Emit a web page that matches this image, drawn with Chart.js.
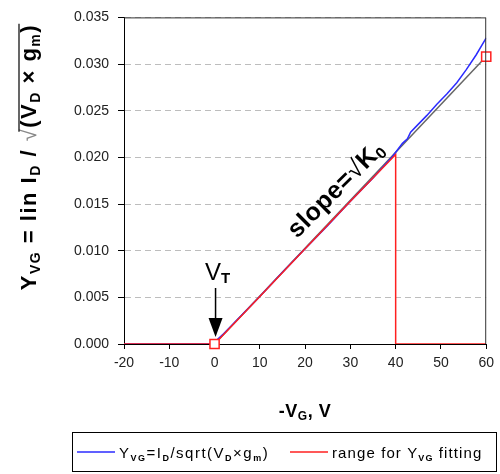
<!DOCTYPE html>
<html>
<head>
<meta charset="utf-8">
<script src="https://cdn.jsdelivr.net/npm/chart.js@4/dist/chart.umd.min.js"></script>
<style>
  html, body { margin: 0; padding: 0; background: #fff; }
  #wrap { width: 500px; height: 474px; }
</style>
</head>
<body>
<div id="wrap"><canvas id="grapYvg" width="500" height="474"></canvas></div>
<script>
// values
var blueX = [-20, -10, -1, 0, 2, 5, 10, 15, 20, 25, 30, 35, 39.3, 41.5, 42.6, 43.3, 44.7, 46.9, 49.1, 51.3, 53.5, 55.6, 57.8, 60];
var blueY = [0, 0, 0, 0.0002, 0.0011, 0.0026, 0.0051, 0.0077, 0.0102, 0.0127, 0.0153, 0.0178, 0.0201, 0.0215, 0.0220, 0.0227, 0.0234, 0.0245, 0.0257, 0.0268, 0.0280, 0.0294, 0.0310, 0.0328];
var rangeX = [-20, 0, 10, 20, 30, 40, 40, 60];
var rangeY = [0, 0, 0.0051, 0.0102, 0.0153, 0.0203, 0, 0];
var fitX = [0, 60];
var fitY = [0, 0.0308];
var markX = [0, 60];
var markY = [0, 0.0308];
var xMin = -20, xMax = 60, xStep = 10;
var yMin = 0, yMax = 0.035, yStep = 0.005;

var FONT = '"Liberation Sans", Arial, sans-serif';

function pts(xs, ys) {
    return xs.map(function (x, i) { return { x: x, y: ys[i] }; });
}

// draws a list of [text, font, dy, color] pieces centred on x
function richText(ctx, segs, x, y) {
    var total = 0;
    segs.forEach(function (s) {
        ctx.font = s[1] + ' ' + FONT;
        s.w = ctx.measureText(s[0]).width;
        total += s.w;
    });
    var cx = x - total / 2;
    segs.forEach(function (s) {
        ctx.font = s[1] + ' ' + FONT;
        ctx.fillStyle = s[3] || '#000';
        ctx.fillText(s[0], cx, y + (s[2] || 0));
        s.x0 = cx;
        cx += s.w;
        s.x1 = cx;
    });
    return segs;
}

var textPlugin = {
    id: 'textPlugin',
    beforeInit: function (chart) {
        chart.ctx.letterSpacing = '2px';
    },
    afterDatasetsDraw: function (chart) {
        var ctx = chart.ctx;
        var xs = chart.scales.x, ys = chart.scales.y;
        var a = chart.chartArea;
        ctx.save();
        ctx.letterSpacing = '0px';
        // top and right frame
        ctx.strokeStyle = '#333';
        ctx.lineWidth = 1;
        ctx.beginPath();
        ctx.moveTo(a.left, a.top + 0.5);
        ctx.lineTo(a.right - 0.5, a.top + 0.5);
        ctx.lineTo(a.right - 0.5, a.bottom);
        ctx.stroke();

        // V_T with arrow
        var px = xs.getPixelForValue(0);
        ctx.textBaseline = 'alphabetic';
        richText(ctx, [['V', '24px'], ['T', 'bold 15px', 3]], px + 3, 280);
        ctx.strokeStyle = '#000';
        ctx.lineWidth = 1.5;
        ctx.beginPath();
        ctx.moveTo(px + 1, 288);
        ctx.lineTo(px + 1, 320);
        ctx.stroke();
        ctx.fillStyle = '#000';
        ctx.beginPath();
        ctx.moveTo(px - 6, 318);
        ctx.lineTo(px + 8, 318);
        ctx.lineTo(px + 1, 337);
        ctx.closePath();
        ctx.fill();

        // slope label
        ctx.save();
        ctx.translate(xs.getPixelForValue(28), ys.getPixelForValue(0.0160));
        ctx.rotate(-45 * Math.PI / 180);
        ctx.letterSpacing = '0.5px';
        richText(ctx, [['slope=', 'bold 25px'], ['√', '25px'], ['K', 'bold 25px'], ['0', 'bold 16px', 4]], 0, 0);
        ctx.restore();
        ctx.restore();
    },
    afterDraw: function (chart) {
        var ctx = chart.ctx;
        ctx.save();
        ctx.letterSpacing = '0px';
        ctx.textBaseline = 'alphabetic';

        // y title, rotated
        ctx.save();
        ctx.translate(36, 157);
        ctx.rotate(-Math.PI / 2);
        ctx.letterSpacing = '1.5px';
        var ys = richText(ctx, [
            ['Y', 'bold 22px'], ['VG', 'bold 14px', 4], [' = lin I', 'bold 22px'], ['D', 'bold 14px', 4],
            [' / ', 'bold 22px'], ['√', '22px', 0, '#888'], ['(V', 'bold 22px'], ['D', 'bold 14px', 4],
            [' × g', 'bold 22px'], ['m', 'bold 14px', 4], [')', 'bold 22px']
        ], 0, 0);
        ctx.strokeStyle = '#000';
        ctx.lineWidth = 1.2;
        ctx.beginPath();
        ctx.moveTo(ys[5].x0 + ys[5].w * 0.7, -17);
        ctx.lineTo(ys[10].x1, -17);
        ctx.stroke();
        ctx.restore();

        // x title
        ctx.letterSpacing = '0.5px';
        richText(ctx, [['-V', 'bold 18px'], ['G', 'bold 12px', 3], [', V', 'bold 18px']], 305, 417);

        // legend box
        ctx.strokeStyle = '#000';
        ctx.lineWidth = 1;
        ctx.strokeRect(72.5, 432.5, 424, 39);
        ctx.lineWidth = 1.5;
        ctx.strokeStyle = '#2b2bff';
        ctx.beginPath(); ctx.moveTo(77, 452); ctx.lineTo(115, 452); ctx.stroke();
        ctx.strokeStyle = '#ff2020';
        ctx.beginPath(); ctx.moveTo(290, 452); ctx.lineTo(328, 452); ctx.stroke();
        ctx.letterSpacing = '1.5px';
        ctx.textAlign = 'left';
        var lx = 119;
        [['Y', '15px'], ['VG', 'bold 9px', 3], ['=I', '15px'], ['D', 'bold 9px', 3], ['/sqrt(V', '15px'],
         ['D', 'bold 9px', 3], ['×g', '15px'], ['m', 'bold 9px', 3], [')', '15px']].forEach(function (s) {
            ctx.font = s[1] + ' ' + FONT;
            ctx.fillStyle = '#000';
            ctx.fillText(s[0], lx, 458 + (s[2] || 0));
            lx += ctx.measureText(s[0]).width;
        });
        lx = 332;
        ctx.letterSpacing = '1.1px';
        [['range for Y', '15px'], ['VG', 'bold 9px', 3], [' fitting', '15px']].forEach(function (s) {
            ctx.font = s[1] + ' ' + FONT;
            ctx.fillText(s[0], lx, 458 + (s[2] || 0));
            lx += ctx.measureText(s[0]).width;
        });
        ctx.restore();
    }
};

var ctx = document.getElementById('grapYvg');
var chartYvg = new Chart(ctx, {
    type: 'scatter',
    data: {
        datasets: [
            {
                label: 'fit',
                data: pts(fitX, fitY),
                showLine: true,
                borderColor: '#666',
                borderWidth: 1.5,
                pointRadius: 0,
                order: 4
            },
            {
                label: 'Y_VG=I_D/sqrt(V_D×g_m)',
                data: pts(blueX, blueY),
                showLine: true,
                borderColor: '#2b2bff',
                borderWidth: 1.5,
                pointRadius: 0,
                order: 3
            },
            {
                label: 'range for Y_VG fitting',
                data: pts(rangeX, rangeY),
                showLine: true,
                borderColor: '#ff2020',
                borderWidth: 1.5,
                pointRadius: 0,
                order: 2
            },
            {
                label: 'marks',
                data: pts(markX, markY),
                showLine: false,
                pointStyle: 'rect',
                pointRadius: 6.5,
                pointBackgroundColor: '#fff',
                pointBorderColor: '#ff2020',
                pointBorderWidth: 1.5,
                clip: false,
                order: 1
            }
        ]
    },
    options: {
        responsive: false,
        animation: false,
        events: [],
        layout: { padding: { left: 0, right: 11, top: 12, bottom: 100 } },
        plugins: { legend: { display: false }, tooltip: { enabled: false } },
        scales: {
            x: {
                type: 'linear',
                min: xMin, max: xMax,
                afterFit: function (s) { s.height = 30; },
                ticks: { stepSize: xStep, color: '#222', padding: 6, maxRotation: 0, font: { family: FONT, size: 14 } },
                grid: { display: true, drawOnChartArea: false, drawTicks: true, tickLength: 5, tickColor: '#000' },
                border: { color: '#000', width: 1 }
            },
            y: {
                min: yMin, max: yMax,
                afterFit: function (s) { s.width = 124; },
                ticks: {
                    stepSize: yStep, color: '#222', padding: 9, font: { family: FONT, size: 14 },
                    callback: function (v) { return v.toFixed(3); }
                },
                grid: { display: true, drawOnChartArea: true, color: '#bdbdbd', tickLength: 6, tickColor: '#000', lineWidth: 1 },
                border: { display: true, color: '#000', width: 1, dash: [6, 4] }
            }
        }
    },
    plugins: [textPlugin]
});
</script>
</body>
</html>
